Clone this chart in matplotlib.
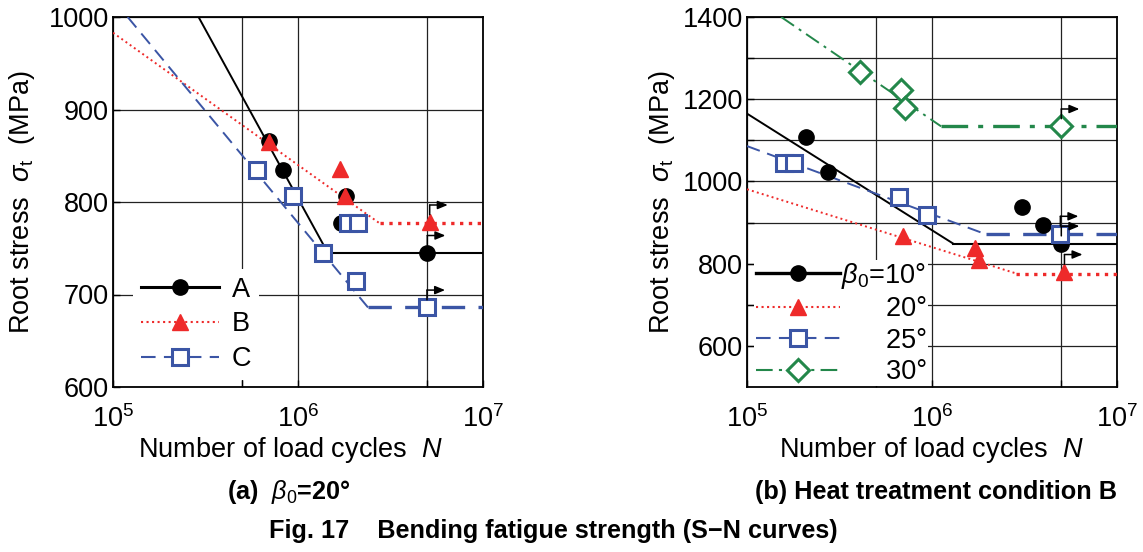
import matplotlib
matplotlib.use("Agg")
import matplotlib.pyplot as plt
from matplotlib.lines import Line2D
from matplotlib.transforms import offset_copy
from matplotlib.ticker import FixedLocator, NullLocator

plt.rcParams["font.family"] = ["Liberation Sans", "DejaVu Sans"]
plt.rcParams["mathtext.fontset"] = "custom"
plt.rcParams["mathtext.rm"] = "Liberation Sans"
plt.rcParams["mathtext.it"] = "Liberation Sans:italic"
plt.rcParams["mathtext.bf"] = "Liberation Sans:bold"

# ---- data, panel (a): beta0 = 20 deg ----
A_N = [7.0e5, 8.3e5, 1.82e6, 1.71e6, 5.0e6]
A_S = [866, 835, 806, 777, 745]
A_fit_N = [2.9e5, 1.45e6, 1e7]
A_fit_S = [1000, 745, 745]

B_N = [7.0e5, 1.68e6, 1.79e6, 5.15e6]
B_S = [865, 836, 806, 778]
B_fit_N = [1e5, 2.76e6, 1e7]
B_fit_S = [983, 777, 777]

C_N = [6.0e5, 9.4e5, 1.86e6, 2.11e6, 1.37e6, 2.07e6, 4.98e6]
C_S = [835, 806, 777, 777, 745, 715, 686]
C_fit_N = [1.2e5, 2.39e6, 1e7]
C_fit_S = [1000, 686, 686]

# ---- data, panel (b): heat treatment condition B ----
b10_N = [2.09e5, 2.74e5, 3.08e6, 3.98e6, 5.0e6]
b10_S = [1107, 1022, 938, 893, 849]
b10_fit_N = [1e5, 1.30e6, 1e7]
b10_fit_S = [1165, 849, 849]

b20_N = [6.97e5, 1.70e6, 1.79e6, 5.2e6]
b20_S = [867, 839, 810, 780]
b20_fit_N = [1e5, 2.86e6, 1e7]
b20_fit_S = [981, 776, 776]

b25_N = [1.58e5, 1.79e5, 6.63e5, 9.4e5, 4.94e6]
b25_S = [1046, 1046, 961, 918, 873]
b25_fit_N = [1e5, 1.97e6, 1e7]
b25_fit_S = [1086, 871, 871]

b30_N = [4.06e5, 6.77e5, 7.12e5, 5.0e6]
b30_S = [1266, 1223, 1179, 1134]
b30_fit_N = [1.53e5, 1.12e6, 1e7]
b30_fit_S = [1400, 1134, 1134]

RED = "#ee2a2a"
BLUE = "#3b55a5"
GREEN = "#23874a"

styles = {
    "k":  dict(color="black", ls="-",  marker="o", ms=11, mfc="black", mec="black", mew=1),
    "r":  dict(color=RED,     ls=":",  marker="^", ms=12, mfc=RED,     mec=RED,     mew=1),
    "b":  dict(color=BLUE,    ls=(0, (7, 4)), marker="s", ms=12, mfc="white", mec=BLUE, mew=2.2),
    "g":  dict(color=GREEN,   ls=(0, (8, 3, 1.5, 3)), marker="D", ms=11.5, mfc="white", mec=GREEN, mew=2.2),
}
plateau_lw = {"k": 1.5, "r": 2.4, "b": 2.4, "g": 2.4}

fig = plt.figure(figsize=(11.43, 5.52), dpi=100)
FS = 19.5
CAP = 18.2


def draw_series(ax, N, S, fitN, fitS, key):
    st = styles[key]
    # sloped part thin, endurance-limit plateau thicker
    ax.plot(fitN[:2], fitS[:2], color=st["color"], ls=st["ls"], lw=1.4, zorder=3)
    ax.plot(fitN[1:], fitS[1:], color=st["color"], ls=st["ls"], lw=plateau_lw[key], zorder=3)
    ax.plot(N, S, ls="none", marker=st["marker"], ms=st["ms"], mfc=st["mfc"],
            mec=st["mec"], mew=st["mew"], zorder=4)
    # run-out arrow on the last point
    x, y = N[-1], S[-1]
    t0 = offset_copy(ax.transData, fig=fig, x=0, y=5.5, units="points")
    t1 = offset_copy(ax.transData, fig=fig, x=0, y=12.5, units="points")
    t2 = offset_copy(ax.transData, fig=fig, x=13, y=12.5, units="points")
    ax.annotate("", xy=(x, y), xycoords=t1, xytext=(x, y), textcoords=t0,
                arrowprops=dict(arrowstyle="-", color="black", lw=1.1,
                                shrinkA=0, shrinkB=0), zorder=5)
    ax.annotate("", xy=(x, y), xycoords=t2, xytext=(x, y), textcoords=t1,
                arrowprops=dict(arrowstyle="-|>,head_length=0.6,head_width=0.25",
                                color="black", lw=1.1, shrinkA=0, shrinkB=0),
                zorder=5)


def handle(key, lw=1.5):
    st = styles[key]
    return Line2D([], [], color=st["color"], ls=st["ls"], lw=lw, marker=st["marker"],
                  ms=st["ms"], mfc=st["mfc"], mec=st["mec"], mew=st["mew"])


def setup(ax, ylim, yticks, ygrid):
    ax.set_xscale("log")
    ax.set_xlim(1e5, 1e7)
    ax.set_ylim(*ylim)
    ax.xaxis.set_major_locator(FixedLocator([1e5, 5e5, 1e6, 5e6, 1e7]))
    ax.xaxis.set_minor_locator(NullLocator())
    ax.set_xticklabels(["$10^5$", "", "$10^6$", "", "$10^7$"])
    ax.set_yticks(ygrid)
    ax.set_yticklabels([str(v) if v in yticks else "" for v in ygrid])
    ax.tick_params(direction="in", length=5, width=1, labelsize=FS, pad=3)
    ax.tick_params(axis="x", pad=13)
    ax.grid(True, color="#222222", lw=0.9)
    for sp in ax.spines.values():
        sp.set_linewidth(1.3)
    ax.set_xlabel("Number of load cycles  $N$", fontsize=FS)
    ax.set_ylabel(r"Root stress  $\sigma_{\rm t}$  (MPa)", fontsize=FS)


# ---- panel (a) ----
axa = fig.add_axes([113 / 1143, 1 - 387 / 552, 370 / 1143, 370 / 552])
setup(axa, (600, 1000), [600, 700, 800, 900, 1000], [600, 700, 800, 900, 1000])
draw_series(axa, A_N, A_S, A_fit_N, A_fit_S, "k")
draw_series(axa, B_N, B_S, B_fit_N, B_fit_S, "r")
draw_series(axa, C_N, C_S, C_fit_N, C_fit_S, "b")
axa.xaxis.set_label_coords(0.48, -0.13)
axa.yaxis.set_label_coords(-0.205, 0.5)
leg = axa.legend([handle("k", 2.2), handle("r"), handle("b")], ["A", "B", "C"],
                 loc="lower left", bbox_to_anchor=(0.035, 0.0), fontsize=FS,
                 frameon=True, fancybox=False,
                 edgecolor="none", facecolor="white", framealpha=1,
                 handlelength=2.9, handletextpad=0.45, labelspacing=0.32,
                 borderpad=0.3, borderaxespad=0.25)
leg.set_zorder(6)

# ---- panel (b) ----
axb = fig.add_axes([747 / 1143, 1 - 387 / 552, 370 / 1143, 370 / 552])
setup(axb, (500, 1400), [600, 800, 1000, 1200, 1400],
      [600, 700, 800, 900, 1000, 1100, 1200, 1300, 1400])
draw_series(axb, b10_N, b10_S, b10_fit_N, b10_fit_S, "k")
draw_series(axb, b20_N, b20_S, b20_fit_N, b20_fit_S, "r")
draw_series(axb, b25_N, b25_S, b25_fit_N, b25_fit_S, "b")
draw_series(axb, b30_N, b30_S, b30_fit_N, b30_fit_S, "g")
axb.xaxis.set_label_coords(0.5, -0.13)
axb.yaxis.set_label_coords(-0.19, 0.5)
leg = axb.legend([handle("k", 2.4), handle("r"), handle("b"), handle("g")],
                 [r"$\beta_0$=10°", "      20°", "      25°", "      30°"],
                 loc="lower left", bbox_to_anchor=(0.018, 0.0), fontsize=FS,
                 frameon=True, fancybox=False,
                 edgecolor="none", facecolor="white", framealpha=1,
                 handlelength=3.1, handletextpad=0.05, labelspacing=0.2,
                 borderpad=0.05, borderaxespad=0.02)
leg.set_zorder(6)

# ---- captions ----
fig.text(289 / 1143, 1 - 492 / 552, r"(a)  $\beta_0$=20°", fontsize=CAP,
         fontweight="bold", ha="center", va="center")
fig.text(936 / 1143, 1 - 492 / 552, "(b) Heat treatment condition B", fontsize=CAP,
         fontweight="bold", ha="center", va="center")
fig.text(553 / 1143, 1 - 531 / 552, "Fig. 17    Bending fatigue strength (S\u2212N curves)",
         fontsize=CAP, fontweight="bold", ha="center", va="center")

fig.savefig("out.png", dpi=100)
